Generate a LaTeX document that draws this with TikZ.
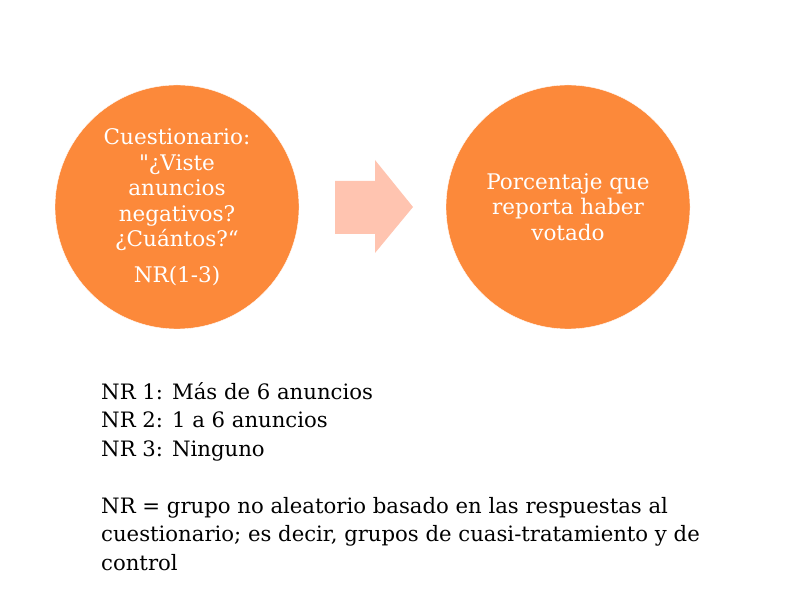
\documentclass[tikz,border=0pt]{standalone}
\usepackage{fontspec}
\setmainfont{DejaVu Serif}
\usepackage{tikz}
\usetikzlibrary{positioning}

\definecolor{circorange}{RGB}{252,137,58}
\definecolor{arrowpink}{RGB}{255,196,176}

\begin{document}
\begin{tikzpicture}[x=1pt,y=1pt,
                    main node/.style={circle,fill=circorange,draw=white,thin,minimum size=244pt,inner sep=0pt,
                      text=white,align=center,font=\fontsize{21.5}{25.5}\selectfont},
                    note/.style={anchor=base west,align=left,inner sep=0pt,font=\fontsize{21.2}{28.5}\selectfont}]
  \useasboundingbox (0,0) rectangle (790,603);
  %circles%
  \node[main node] (q) at (177,396) {Cuestionario:\\\textquotedbl¿Viste\\anuncios\\negativos?\\¿Cuántos?“\\[10pt]NR(1-3)};
  \node[main node] (v) at (568,396) {Porcentaje que\\reporta haber\\votado};

  %block arrow%
  \fill[arrowpink] (335,422) -- (375,422) -- (375,443) -- (413,396)
    -- (375,350) -- (375,369) -- (335,369) -- cycle;

  %legend%
  \node[note] (nr) at (101,33) {NR 1: Más de 6 anuncios\\NR 2: 1 a 6 anuncios\\NR 3: Ninguno\\[28.5pt]
    NR = grupo no aleatorio basado en las respuestas al\\cuestionario; es decir, grupos de cuasi-tratamiento y de\\control};
\end{tikzpicture}
\end{document}
